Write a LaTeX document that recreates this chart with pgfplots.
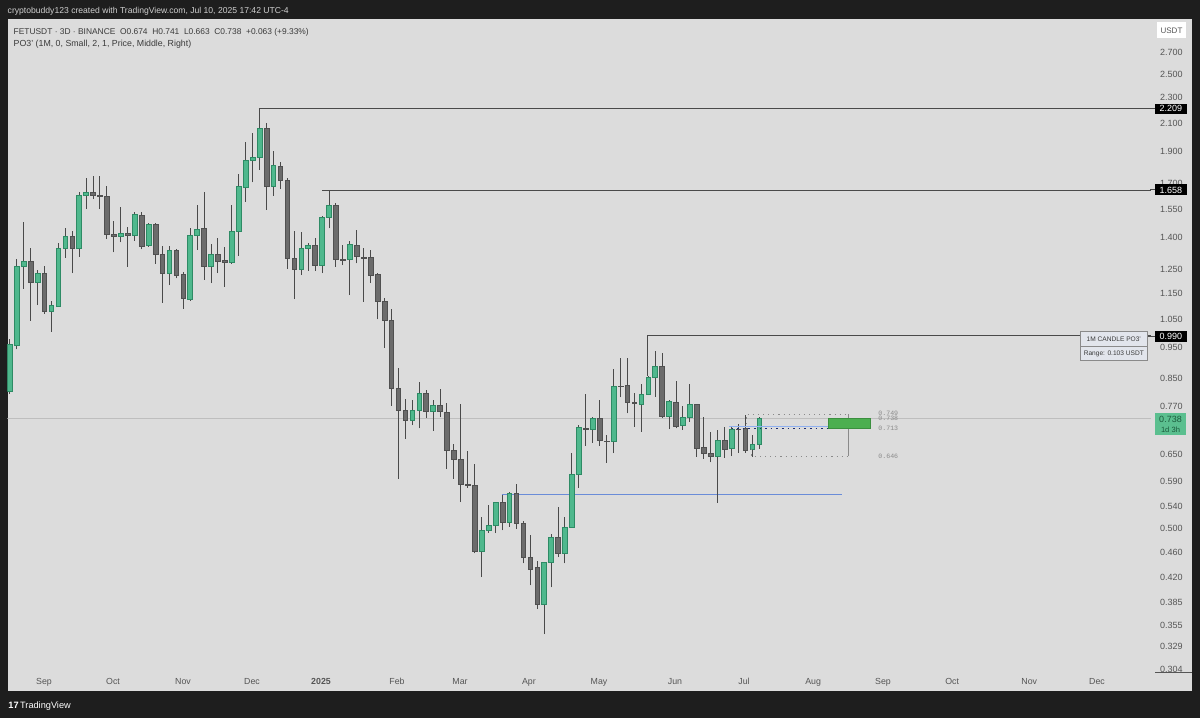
\documentclass[border=0pt]{standalone}
\usepackage{pgfplots}
\pgfplotsset{compat=1.18}
\usepackage{pgfplotstable}
\usepackage{fontspec}
\setmainfont{Liberation Sans}
\newfontfamily\monof{Liberation Mono}

\definecolor{framebg}{HTML}{1E1E1E}
\definecolor{chartbg}{HTML}{DCDCDC}
\definecolor{upbody}{HTML}{4FB88D}
\definecolor{upedge}{HTML}{2E8B65}
\definecolor{dnbody}{HTML}{6B6B6B}
\definecolor{dnedge}{HTML}{505050}
\definecolor{wickc}{HTML}{4A4A4A}
\definecolor{ticktext}{HTML}{555555}
\definecolor{hdrtext}{HTML}{CFCFCF}
\definecolor{legtext}{HTML}{3A3A3A}
\definecolor{levelline}{HTML}{4A4A4A}
\definecolor{priceline}{HTML}{BEBEBE}
\definecolor{blueline}{HTML}{6A8CD8}
\definecolor{navydot}{HTML}{1C2B6E}
\definecolor{lightblue}{HTML}{8FB0F0}
\definecolor{boxgray}{HTML}{8A8A8A}
\definecolor{po3green}{HTML}{4CAF50}
\definecolor{po3greenedge}{HTML}{3B8F3F}
\definecolor{lastbox}{HTML}{5BBF8F}
\definecolor{lasttext}{HTML}{1B5A3C}
\definecolor{po3bg}{HTML}{E2E5EC}

\newcommand\fs[1]{\fontsize{#1}{#1}\selectfont}

\pgfplotstableread{
n o h l c
0 0.814 0.977 0.805 0.960
1 0.958 1.297 0.943 1.264
2 1.264 1.479 1.168 1.286
3 1.286 1.349 1.044 1.196
4 1.196 1.249 1.103 1.236
5 1.236 1.267 1.069 1.078
6 1.080 1.119 1.004 1.101
7 1.099 1.373 1.097 1.349
8 1.349 1.448 1.305 1.405
9 1.409 1.434 1.235 1.349
10 1.350 1.648 1.309 1.629
11 1.629 1.728 1.550 1.647
12 1.645 1.741 1.605 1.629
13 1.629 1.741 1.550 1.619
14 1.619 1.683 1.393 1.419
15 1.419 1.487 1.330 1.405
16 1.405 1.560 1.378 1.422
17 1.422 1.453 1.264 1.414
18 1.410 1.532 1.386 1.523
19 1.518 1.532 1.344 1.356
20 1.361 1.477 1.356 1.466
21 1.466 1.477 1.276 1.322
22 1.322 1.360 1.113 1.235
23 1.235 1.360 1.184 1.339
24 1.339 1.344 1.213 1.227
25 1.231 1.242 1.088 1.130
26 1.126 1.448 1.119 1.410
27 1.410 1.572 1.341 1.443
28 1.446 1.647 1.206 1.264
29 1.264 1.369 1.192 1.322
30 1.322 1.398 1.235 1.290
31 1.291 1.356 1.177 1.282
32 1.282 1.572 1.276 1.431
33 1.431 1.753 1.314 1.678
34 1.674 1.963 1.591 1.844
35 1.840 2.027 1.704 1.861
36 1.861 2.209 1.780 2.065
37 2.065 2.100 1.545 1.678
38 1.682 1.904 1.625 1.807
39 1.805 1.829 1.664 1.714
40 1.718 1.728 1.254 1.302
41 1.302 1.434 1.127 1.254
42 1.254 1.428 1.227 1.350
43 1.349 1.376 1.246 1.365
44 1.365 1.398 1.246 1.268
45 1.268 1.512 1.235 1.503
46 1.503 1.658 1.448 1.572
47 1.572 1.582 1.264 1.296
48 1.297 1.365 1.271 1.293
49 1.297 1.386 1.143 1.369
50 1.365 1.439 1.279 1.309
51 1.307 1.349 1.116 1.303
52 1.307 1.341 1.192 1.226
53 1.230 1.235 1.049 1.119
54 1.119 1.130 0.949 1.044
55 1.044 1.087 0.772 0.822
56 0.822 0.882 0.597 0.761
57 0.761 0.790 0.687 0.733
58 0.734 0.788 0.721 0.759
59 0.759 0.841 0.713 0.807
60 0.807 0.817 0.739 0.756
61 0.756 0.788 0.707 0.774
62 0.774 0.820 0.741 0.756
63 0.755 0.779 0.617 0.660
64 0.660 0.675 0.597 0.640
65 0.640 0.776 0.549 0.585
66 0.585 0.658 0.578 0.582
67 0.582 0.628 0.458 0.461
68 0.461 0.520 0.421 0.496
69 0.496 0.543 0.493 0.506
70 0.506 0.549 0.492 0.549
71 0.549 0.563 0.497 0.512
72 0.511 0.570 0.503 0.566
73 0.566 0.585 0.499 0.509
74 0.509 0.514 0.442 0.452
75 0.452 0.489 0.409 0.433
76 0.436 0.445 0.376 0.383
77 0.383 0.443 0.344 0.443
78 0.443 0.491 0.406 0.485
79 0.485 0.540 0.452 0.458
80 0.458 0.521 0.442 0.503
81 0.503 0.653 0.502 0.606
82 0.606 0.721 0.578 0.715
83 0.714 0.805 0.670 0.711
84 0.711 0.743 0.678 0.739
85 0.739 0.788 0.670 0.683
86 0.682 0.696 0.631 0.680
87 0.680 0.880 0.653 0.828
88 0.828 0.914 0.796 0.826
89 0.831 0.914 0.752 0.781
90 0.781 0.807 0.717 0.779
91 0.777 0.833 0.705 0.804
92 0.804 0.859 0.802 0.853
93 0.853 0.938 0.797 0.889
94 0.889 0.930 0.739 0.745
95 0.745 0.788 0.711 0.784
96 0.782 0.844 0.713 0.719
97 0.721 0.772 0.709 0.741
98 0.741 0.834 0.730 0.777
99 0.777 0.778 0.645 0.664
100 0.666 0.741 0.640 0.653
101 0.653 0.705 0.632 0.645
102 0.645 0.709 0.548 0.684
103 0.684 0.717 0.643 0.663
104 0.664 0.717 0.646 0.711
105 0.711 0.723 0.654 0.710
106 0.713 0.747 0.654 0.660
107 0.662 0.696 0.645 0.674
108 0.674 0.741 0.663 0.738
}\candles

\tikzset{px/.style={x=0.5pt,y=-0.5pt,yshift=359pt}}

\begin{document}
\begin{tikzpicture}
\begin{scope}[px]
\fill[framebg] (0,0) rectangle (1200,718);
\fill[chartbg] (7.5,19) rectangle (1192,691);
\end{scope}

\begin{axis}[
  at={(3.75pt,23pt)}, anchor=south west, scale only axis,
  width=571.75pt, height=326.5pt,
  xmin=-0.326, xmax=164.44,
  ymode=log, ymin=0.30088, ymax=3.0382,
  axis line style={draw=none},
  major tick length=0pt, minor tick length=0pt,
  ytick={0.304,0.329,0.355,0.385,0.42,0.46,0.5,0.54,0.59,0.65,0.77,0.85,0.95,1.05,1.15,1.25,1.4,1.55,1.7,1.9,2.1,2.3,2.5,2.7},
  yticklabels={0.304,0.329,0.355,0.385,0.420,0.460,0.500,0.540,0.590,0.650,0.770,0.850,0.950,1.050,1.150,1.250,1.400,1.550,1.700,1.900,2.100,2.300,2.500,2.700},
  yticklabel pos=right,
  yticklabel style={anchor=east, inner sep=0pt, xshift=16pt, font=\fs{4.5pt}, text=ticktext},
  xtick={4.93,14.88,24.96,34.9,44.85,55.8,64.88,74.8,84.9,95.85,105.8,115.75,125.83,135.8,146.9,156.66},
  xticklabels={Sep,Oct,Nov,Dec,\textbf{2025},Feb,Mar,Apr,May,Jun,Jul,Aug,Sep,Oct,Nov,Dec},
  xticklabel style={anchor=base, inner sep=0pt, yshift=-6.1pt, font=\fs{4.4pt}, text=ticktext},
  clip=true,
]
% current price line
\addplot[priceline, line width=0.4pt, forget plot] coordinates {(-0.326,0.738) (164.44,0.738)};
% key levels
\addplot[levelline, line width=0.5pt, forget plot] coordinates {(35.9,2.209) (164.44,2.209)};
\addplot[levelline, line width=0.5pt, forget plot] coordinates {(45,1.658) (164.44,1.658)};
\addplot[levelline, line width=0.6pt, forget plot] coordinates {(91.9,0.859) (91.9,0.990) (164.44,0.990)};
\addplot[blueline, line width=0.5pt, forget plot] coordinates {(70.9,0.565) (119.9,0.565)};
% candles
\pgfplotstablegetrowsof{\candles}
\pgfmathtruncatemacro\lastrow{\pgfplotsretval-1}
\pgfplotsforeachungrouped \i in {0,...,\lastrow}{
  \pgfplotstablegetelem{\i}{n}\of\candles \let\candN\pgfplotsretval
  \pgfplotstablegetelem{\i}{o}\of\candles \let\candO\pgfplotsretval
  \pgfplotstablegetelem{\i}{h}\of\candles \let\candH\pgfplotsretval
  \pgfplotstablegetelem{\i}{l}\of\candles \let\candL\pgfplotsretval
  \pgfplotstablegetelem{\i}{c}\of\candles \let\candC\pgfplotsretval
  \pgfmathsetmacro\xa{\candN-0.34}
  \pgfmathsetmacro\xb{\candN+0.34}
  \ifdim\candC pt<\candO pt
    \def\bodycol{dnbody}\def\edgecol{dnedge}
  \else
    \def\bodycol{upbody}\def\edgecol{upedge}
  \fi
  \edef\temp{%
    \noexpand\addplot[draw=wickc, line width=0.5pt, forget plot] coordinates {(\candN,\candL) (\candN,\candH)};
    \noexpand\addplot[fill=\bodycol, draw=\edgecol, line width=0.35pt, forget plot] coordinates {(\xa,\candO) (\xb,\candO) (\xb,\candC) (\xa,\candC)} -- cycle;
  }\temp
}
% PO3 projection box
\addplot[boxgray, dotted, line width=0.55pt, forget plot] coordinates {(106.2,0.725) (106.2,0.749) (120.9,0.749)};
\addplot[boxgray, dotted, line width=0.55pt, forget plot] coordinates {(106.9,0.662) (106.9,0.646) (120.9,0.646)};
\addplot[boxgray, line width=0.5pt, forget plot] coordinates {(120.9,0.749) (120.9,0.646)};
\addplot[lightblue, line width=0.5pt, forget plot] coordinates {(103.7,0.718) (117.9,0.718)};
\addplot[navydot, dotted, line width=0.8pt, forget plot] coordinates {(104,0.713) (117.9,0.713)};
\addplot[fill=po3green, draw=po3greenedge, line width=0.3pt, forget plot] coordinates {(117.9,0.713) (123.95,0.713) (123.95,0.738) (117.9,0.738)} -- cycle;
\end{axis}

\begin{scope}[px]
% header
\node[anchor=west, text=hdrtext, font=\fs{4.3pt}, inner sep=0pt] at (7.3,11.5) {cryptobuddy123 created with TradingView.com, Jul 10, 2025 17:42 UTC-4};
\node[anchor=west, text=legtext, font=\fs{4.2pt}, inner sep=0pt] at (13.3,32.3) {FETUSDT · 3D · BINANCE\ \ O0.674\ \ H0.741\ \ L0.663\ \ C0.738\ \ +0.063 (+9.33\%)};
\node[anchor=west, text=legtext, font=\fs{4.4pt}, inner sep=0pt] at (13.3,44.3) {PO3' (1M, 0, Small, 2, 1, Price, Middle, Right)};
% PO3 info box
\draw[fill=po3bg, draw=boxgray, line width=0.4pt] (1080,331.7) rectangle (1147.7,360.7);
\draw[boxgray, line width=0.4pt] (1080,346.7) -- (1147.7,346.7);
\node[text=legtext, font=\fs{3.3pt}, inner sep=0pt] at (1113.8,339.2) {1M CANDLE PO3'};
\node[text=legtext, font=\fs{3.3pt}, inner sep=0pt] at (1113.8,353.7) {Range: 0.103 USDT};
% projection labels
\node[anchor=west, text=boxgray, font=\monof\fs{3.3pt}, inner sep=0pt] at (878,413.5) {0.749};
\node[anchor=west, text=boxgray, font=\monof\fs{3.3pt}, inner sep=0pt] at (878,418) {0.738};
\node[anchor=west, text=boxgray, font=\monof\fs{3.3pt}, inner sep=0pt] at (878,428.5) {0.713};
\node[anchor=west, text=boxgray, font=\monof\fs{3.3pt}, inner sep=0pt] at (878,456.7) {0.646};
% right scale labels
\fill[white] (1157,22) rectangle (1186,38.5);
\node[text=ticktext, font=\fs{4pt}, inner sep=0pt] at (1171.5,30.3) {USDT};
\draw[levelline, line width=0.5pt] (1150,108.8) -- (1155,108.8);
\draw[levelline, line width=0.5pt] (1150,190) -- (1155,190);
\draw[levelline, line width=0.6pt] (1147.7,336.5) -- (1155,336.5);
\node[fill=black, text=white, font=\fs{4.5pt}, inner sep=0pt, minimum width=16pt, minimum height=5pt, anchor=west] at (1154.5,108.8) {2.209};
\node[fill=black, text=white, font=\fs{4.5pt}, inner sep=0pt, minimum width=16pt, minimum height=5.5pt, anchor=west] at (1154.5,190) {1.658};
\node[fill=black, text=white, font=\fs{4.5pt}, inner sep=0pt, minimum width=16pt, minimum height=5.5pt, anchor=west] at (1154.5,336.5) {0.990};
\fill[lastbox] (1155,413) rectangle (1186,435);
\node[text=lasttext, font=\fs{4.5pt}, inner sep=0pt] at (1170.5,419) {0.738};
\node[text=lasttext, font=\fs{3.8pt}, inner sep=0pt] at (1170.5,429.5) {1d 3h};
\draw[ticktext, line width=0.4pt] (1155,672) -- (1192,672);
% footer logo
\node[anchor=west, text=white, font=\fs{4.6pt}, inner sep=0pt] at (8,706) {\textbf{17}\,TradingView};
\end{scope}
\end{tikzpicture}
\end{document}
